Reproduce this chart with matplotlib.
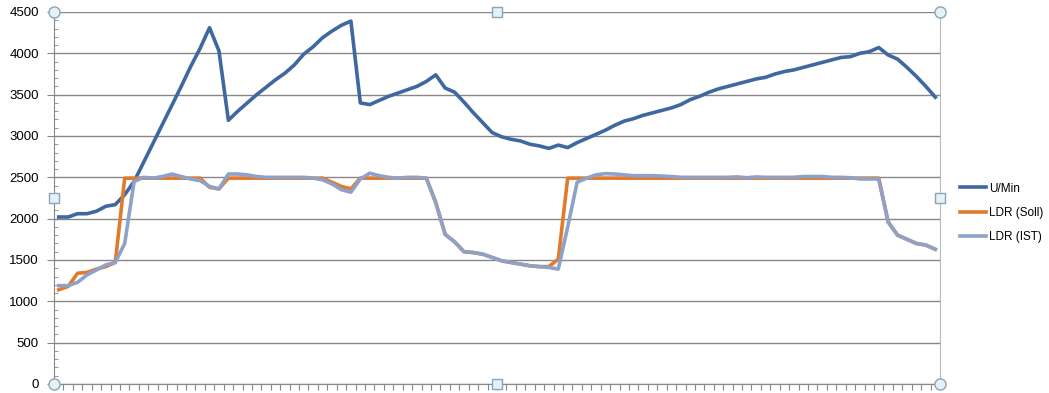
import matplotlib.pyplot as plt
import numpy as np

# values, one per sample
u_min = [2020, 2020, 2060, 2060, 2090, 2150, 2170, 2290, 2450, 2680,
         2910, 3140, 3370, 3600, 3840, 4060, 4310, 4030, 3190, 3300,
         3400, 3500, 3590, 3680, 3760, 3860, 3990, 4080, 4190, 4270,
         4340, 4390, 3400, 3380, 3430, 3480, 3520, 3560, 3600, 3660,
         3740, 3580, 3530, 3410, 3280, 3160, 3040, 2990, 2960, 2940,
         2900, 2880, 2850, 2890, 2860, 2920, 2970, 3020, 3070, 3130,
         3180, 3210, 3250, 3280, 3310, 3340, 3380, 3440, 3480, 3530,
         3570, 3600, 3630, 3660, 3690, 3710, 3750, 3780, 3800, 3830,
         3860, 3890, 3920, 3950, 3960, 4000, 4020, 4070, 3980, 3930,
         3830, 3720, 3600, 3470]

ldr_soll = [1140, 1180, 1340, 1350, 1390, 1420, 1470, 2490, 2490, 2490,
            2490, 2490, 2490, 2490, 2490, 2490, 2380, 2360, 2490, 2490,
            2490, 2490, 2490, 2490, 2490, 2490, 2490, 2490, 2490, 2440,
            2390, 2360, 2490, 2490, 2490, 2490, 2490, 2490, 2490, 2490,
            2200, 1810, 1720, 1600, 1590, 1570, 1530, 1490, 1470, 1450,
            1430, 1420, 1420, 1510, 2490, 2490, 2490, 2490, 2490, 2490,
            2490, 2490, 2490, 2490, 2490, 2490, 2490, 2490, 2490, 2490,
            2490, 2490, 2490, 2490, 2490, 2490, 2490, 2490, 2490, 2490,
            2490, 2490, 2490, 2490, 2490, 2490, 2490, 2490, 1960, 1800,
            1750, 1700, 1680, 1630]

ldr_ist = [1190, 1190, 1230, 1320, 1380, 1440, 1470, 1700, 2450, 2500,
           2490, 2510, 2540, 2510, 2480, 2460, 2390, 2360, 2540, 2540,
           2530, 2510, 2500, 2500, 2500, 2500, 2500, 2490, 2470, 2420,
           2350, 2320, 2480, 2550, 2520, 2500, 2490, 2500, 2500, 2490,
           2190, 1810, 1720, 1600, 1590, 1570, 1530, 1490, 1470, 1450,
           1430, 1420, 1410, 1390, 1900, 2440, 2490, 2530, 2545, 2540,
           2530, 2520, 2520, 2520, 2515, 2510, 2500, 2500, 2500, 2500,
           2500, 2500, 2505, 2495, 2505, 2500, 2500, 2500, 2500, 2510,
           2510, 2510, 2500, 2500, 2495, 2480, 2480, 2480, 1960, 1800,
           1750, 1700, 1680, 1630]

labels = ['U/Min', 'LDR (Soll)', 'LDR (IST)']
colors = ['#3F68A0', '#E07B2E', '#8EA1C8']

plt.rcParams['font.family'] = ['Liberation Sans', 'DejaVu Sans']

fig = plt.figure(figsize=(10.49, 3.93), dpi=100)
ax = fig.add_axes([54/1049, 9/393, 886/1049, 372/393])

x = np.arange(len(u_min))
for series, lab, col in zip([u_min, ldr_soll, ldr_ist], labels, colors):
    ax.plot(x, series, color=col, lw=2.6, label=lab, solid_joinstyle='round')

# axes look like the excel chart
ax.set_xlim(-0.5, len(u_min) - 0.5)
ax.set_ylim(0, 4500)
ax.set_yticks(np.arange(0, 4501, 500))
ax.set_yticks(np.arange(0, 4501, 100), minor=True)
ax.set_xticks(np.arange(-0.5, len(u_min), 1))
ax.set_xticklabels([])
ax.grid(axis='y', color='#878787', lw=1)
ax.set_axisbelow(True)
ax.tick_params(axis='y', which='major', length=5, color='#878787', labelsize=9.5, pad=6)
ax.tick_params(axis='y', which='minor', direction='in', length=3, color='#878787')
ax.tick_params(axis='x', length=4, color='#878787')
for s in ['left', 'bottom']:
    ax.spines[s].set_color('#878787')
ax.spines['top'].set_visible(False)
ax.spines['right'].set_color('#BBBBBB')

# selection handles of the chart object
hs = dict(transform=ax.transAxes, clip_on=False, zorder=5, ls='none',
          mfc='#E4F1F7', mec='#8AA5B8', mew=1)
ax.plot([0, 1, 0, 1], [0, 0, 1, 1], marker='o', ms=8, **hs)
ax.plot([0.5, 0.5, 0, 1], [0, 1, 0.5, 0.5], marker='s', ms=6.5, **hs)

fig.legend(loc='center left', bbox_to_anchor=(956/1049, (393-213)/393),
           frameon=False, fontsize=8.5, handlelength=2.2, handletextpad=0.3,
           labelspacing=1.05, borderaxespad=0, borderpad=0.3)

fig.savefig('out.png', dpi=100)
